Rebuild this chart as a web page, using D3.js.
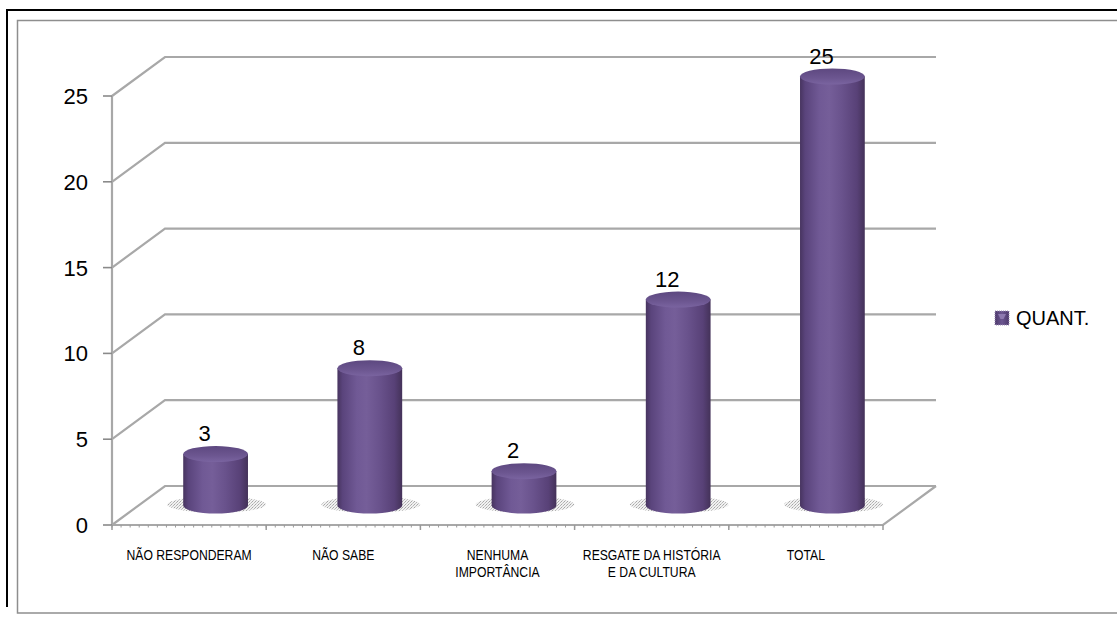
<!DOCTYPE html>
<html>
<head>
<meta charset="utf-8">
<script src="https://cdn.jsdelivr.net/npm/d3@7"></script>
<style>
  html, body { margin: 0; padding: 0; background: #ffffff; }
  svg { display: block; }
</style>
</head>
<body>
<svg id="chart" width="1117" height="617"></svg>
<script>
// Survey answers and their counts
const categories = [
  ["NÃO RESPONDERAM"],
  ["NÃO SABE"],
  ["NENHUMA", "IMPORTÂNCIA"],
  ["RESGATE DA HISTÓRIA", "E DA CULTURA"],
  ["TOTAL"]
];
const values = [3, 8, 2, 12, 25];
const yTicks = [0, 5, 10, 15, 20, 25];
const seriesName = "QUANT.";

const svg = d3.select("#chart");
const font = "'Liberation Sans', Arial, sans-serif";

// 3D depth of the plot box (back wall offset)
const depthX = 53, depthY = 39;

const x = d3.scaleBand().domain(d3.range(categories.length)).range([112, 883]).padding(0);
const y = d3.scaleLinear().domain([0, 25]).range([525, 96]);

const defs = svg.append("defs");

// Cylinder shading
const bodyGrad = defs.append("linearGradient").attr("id", "cylBody")
  .attr("x1", "0%").attr("x2", "100%").attr("y1", "0%").attr("y2", "0%");
[["0%", "#47345f"], ["8%", "#5a447c"], ["30%", "#705995"], ["45%", "#755e99"],
 ["65%", "#69528c"], ["88%", "#584177"], ["100%", "#443259"]].forEach(([o, c]) =>
  bodyGrad.append("stop").attr("offset", o).attr("stop-color", c));

const topGrad = defs.append("linearGradient").attr("id", "cylTop")
  .attr("x1", "0%").attr("x2", "0%").attr("y1", "0%").attr("y2", "100%");
[["0%", "#5d4880"], ["60%", "#6c5690"], ["100%", "#7a64a0"]].forEach(([o, c]) =>
  topGrad.append("stop").attr("offset", o).attr("stop-color", c));

// Stippled floor shadow
const pat = defs.append("pattern").attr("id", "stipple")
  .attr("width", 3).attr("height", 3).attr("patternUnits", "userSpaceOnUse");
pat.append("rect").attr("width", 3).attr("height", 3).attr("fill", "#ececec");
pat.append("rect").attr("x", 0).attr("y", 0).attr("width", 1).attr("height", 1).attr("fill", "#8a8a8a");
pat.append("rect").attr("x", 2).attr("y", 1).attr("width", 1).attr("height", 1).attr("fill", "#9e9e9e");
pat.append("rect").attr("x", 1).attr("y", 2).attr("width", 1).attr("height", 1).attr("fill", "#b4b4b4");

const legGrad = defs.append("linearGradient").attr("id", "legFill")
  .attr("x1", "0%").attr("x2", "100%");
[["0%", "#4e3a6d"], ["50%", "#6c5690"], ["100%", "#4e3a6d"]].forEach(([o, c]) =>
  legGrad.append("stop").attr("offset", o).attr("stop-color", c));

// Frames
svg.append("rect").attr("x", 17.5).attr("y", 20.5).attr("width", 1110).attr("height", 592.5)
  .attr("fill", "none").attr("stroke", "#8e8e8e").attr("stroke-width", 1.5);
svg.append("line").attr("x1", 6).attr("x2", 1117).attr("y1", 10).attr("y2", 10)
  .attr("stroke", "#000").attr("stroke-width", 2);
svg.append("line").attr("x1", 7).attr("x2", 7).attr("y1", 9).attr("y2", 607)
  .attr("stroke", "#000").attr("stroke-width", 2);

const gridColor = "#a8a8a8";
const x0 = x.range()[0], x1 = x.range()[1];

// Back wall gridlines and left wall diagonals
const grid = svg.append("g").attr("stroke", gridColor).attr("stroke-width", 2.2).attr("fill", "none");
yTicks.forEach(t => {
  grid.append("path").attr("d",
    `M${x0},${y(t)} L${x0 + depthX},${y(t) - depthY} L${x1 + depthX},${y(t) - depthY}`);
});
// Floor front edge and right diagonal
grid.append("path").attr("d",
  `M${x0},${y(0)} L${x1},${y(0)} L${x1 + depthX},${y(0) - depthY}`);
// Vertical value axis
grid.append("line").attr("x1", x0).attr("x2", x0).attr("y1", y(25)).attr("y2", y(0));

// Value axis ticks and labels
const yAxis = svg.append("g");
yTicks.forEach(t => {
  yAxis.append("line").attr("x1", x0 - 9).attr("x2", x0).attr("y1", y(t)).attr("y2", y(t))
    .attr("stroke", "#8a8a8a").attr("stroke-width", 1.6);
  yAxis.append("text").attr("x", 88).attr("y", y(t)).attr("dy", "0.36em")
    .attr("text-anchor", "end").attr("font-family", font).attr("font-size", 22)
    .attr("fill", "#000").text(t);
});

// Category axis ticks (major at boundaries, minor along the edge)
const xt = svg.append("g").attr("stroke", "#9a9a9a");
for (let i = 0; i <= categories.length; i++) {
  const px = x0 + i * x.bandwidth();
  xt.append("line").attr("x1", px).attr("x2", px).attr("y1", y(0)).attr("y2", y(0) + 5).attr("stroke-width", 1.5);
}
d3.range(x0, x1, x.bandwidth() / 17).forEach(px => {
  xt.append("line").attr("x1", px).attr("x2", px).attr("y1", y(0)).attr("y2", y(0) + 2.5).attr("stroke-width", 1);
});

// Category labels
const labels = svg.append("g");
categories.forEach((lines, i) => {
  const cx = x(i) + x.bandwidth() / 2;
  const g = labels.append("g").attr("transform", `translate(${cx},0) scale(0.87,1)`);
  lines.forEach((ln, k) => {
    g.append("text").attr("x", 0).attr("y", 560.5 + k * 17)
      .attr("text-anchor", "middle").attr("font-family", font).attr("font-size", 14)
      .attr("fill", "#000").text(ln);
  });
});

// Cylinders
const rx = x.bandwidth() * 0.21, ry = 8;
const bars = svg.append("g");
values.forEach((v, i) => {
  const cx = x(i) + x.bandwidth() / 2 + depthX / 2;
  const base = y(0) - depthY / 2;
  const top = y(v) - depthY / 2;
  bars.append("ellipse").attr("cx", cx + 1).attr("cy", base - 1).attr("rx", rx + 17).attr("ry", 8)
    .attr("fill", "url(#stipple)").attr("opacity", 0.75);
  bars.append("path")
    .attr("d", `M${cx - rx},${top} L${cx - rx},${base} A${rx},${ry} 0 0 0 ${cx + rx},${base} L${cx + rx},${top} Z`)
    .attr("fill", "url(#cylBody)");
  bars.append("ellipse").attr("cx", cx).attr("cy", top).attr("rx", rx).attr("ry", ry)
    .attr("fill", "url(#cylTop)");
  bars.append("text").attr("x", cx - 11).attr("y", top - ry - 5)
    .attr("text-anchor", "middle").attr("font-family", font).attr("font-size", 22)
    .attr("fill", "#000").text(v);
});

// Legend
const leg = svg.append("g");
leg.append("rect").attr("x", 995).attr("y", 311).attr("width", 14).attr("height", 14)
  .attr("fill", "url(#legFill)").attr("stroke", "#9b8db3").attr("stroke-width", 1).attr("stroke-dasharray", "1,1");
leg.append("path").attr("d", "M998,314 L1006,314 L1003.5,319 L1000.5,319 Z").attr("fill", "#8e7ab0");
leg.append("text").attr("x", 1016).attr("y", 325).attr("font-family", font).attr("font-size", 20)
  .attr("fill", "#000").text(seriesName);
</script>
</body>
</html>
